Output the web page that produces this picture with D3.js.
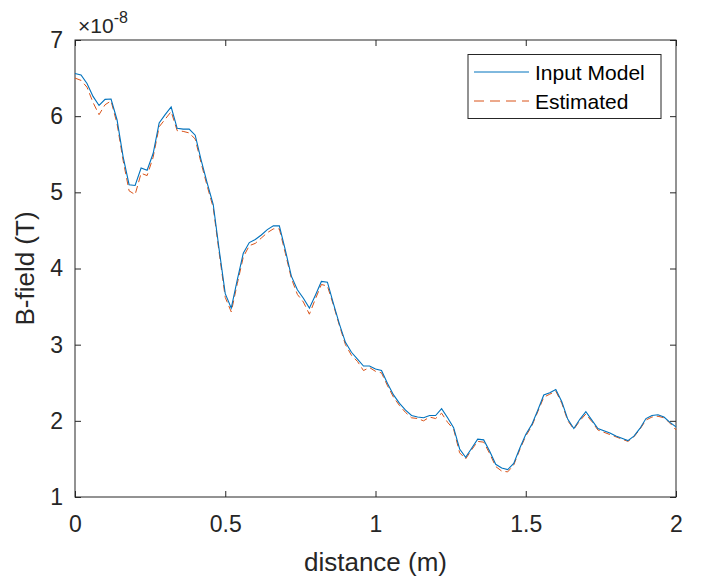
<!DOCTYPE html>
<html>
<head>
<meta charset="utf-8">
<script src="https://cdn.jsdelivr.net/npm/d3@7"></script>
<style>
  body { margin: 0; background: #fff; }
  text { font-family: "Liberation Sans", Arial, sans-serif; }
</style>
</head>
<body>
<svg width="711" height="580"></svg>
<script>
var svg = d3.select("svg");

// x positions: 0 .. 2 m in steps of 0.02
var distance = d3.range(101).map(function(i) { return i / 50; });

// B-field values (x 1e-8 T)
var inputModel = [6.56, 6.54, 6.43, 6.26, 6.14, 6.22, 6.225, 5.95, 5.47, 5.10,
  5.09, 5.32, 5.29, 5.51, 5.91, 6.02, 6.12, 5.84, 5.83, 5.83,
  5.75, 5.42, 5.12, 4.84, 4.24, 3.67, 3.48, 3.85, 4.20, 4.34,
  4.38, 4.44, 4.51, 4.56, 4.56, 4.24, 3.90, 3.72, 3.61, 3.48,
  3.65, 3.83, 3.82, 3.54, 3.27, 3.03, 2.90, 2.81, 2.72, 2.72,
  2.68, 2.66, 2.49, 2.34, 2.23, 2.14, 2.07, 2.05, 2.04, 2.07,
  2.07, 2.16, 2.04, 1.91, 1.63, 1.52, 1.64, 1.76, 1.75, 1.60,
  1.43, 1.38, 1.36, 1.44, 1.64, 1.82, 1.95, 2.14, 2.34, 2.37,
  2.41, 2.25, 2.02, 1.90, 2.02, 2.12, 2.01, 1.90, 1.87, 1.84,
  1.80, 1.77, 1.74, 1.80, 1.90, 2.03, 2.07, 2.08, 2.05, 1.98,
  1.92];

var estimated = [6.50, 6.47, 6.38, 6.18, 6.02, 6.15, 6.20, 5.90, 5.42, 5.02,
  4.97, 5.25, 5.22, 5.46, 5.86, 5.96, 6.06, 5.81, 5.80, 5.78,
  5.70, 5.38, 5.08, 4.80, 4.20, 3.62, 3.43, 3.80, 4.15, 4.30,
  4.33, 4.40, 4.47, 4.52, 4.52, 4.20, 3.87, 3.66, 3.56, 3.40,
  3.60, 3.79, 3.77, 3.52, 3.25, 3.00, 2.86, 2.78, 2.66, 2.70,
  2.65, 2.63, 2.46, 2.31, 2.20, 2.11, 2.04, 2.03, 2.00, 2.05,
  2.03, 2.10, 1.98, 1.89, 1.58, 1.50, 1.62, 1.73, 1.72, 1.57,
  1.40, 1.34, 1.33, 1.42, 1.62, 1.80, 1.93, 2.12, 2.31, 2.35,
  2.39, 2.23, 2.00, 1.89, 2.00, 2.09, 1.99, 1.88, 1.85, 1.82,
  1.79, 1.76, 1.73, 1.79, 1.89, 2.01, 2.05, 2.06, 2.04, 1.97,
  1.88];

var xTicks = [0, 0.5, 1, 1.5, 2];
var yTicks = [1, 2, 3, 4, 5, 6, 7];
var seriesNames = ["Input Model", "Estimated"];

var plotLeft = 75, plotRight = 676, plotTop = 40, plotBottom = 497;
var axisColor = "#262626";

var x = d3.scaleLinear().domain([0, 2]).range([plotLeft, plotRight]);
var y = d3.scaleLinear().domain([1, 7]).range([plotBottom, plotTop]);

function styleAxis(g) {
  g.select(".domain").remove();
  g.selectAll("line").attr("stroke", axisColor);
  g.selectAll("text").attr("fill", axisColor).style("font-size", "23px");
}

svg.append("g")
  .attr("transform", "translate(0," + plotBottom + ")")
  .call(d3.axisBottom(x).tickValues(xTicks).tickFormat(d3.format("")).tickSize(-6).tickPadding(19))
  .call(styleAxis);

svg.append("g")
  .attr("transform", "translate(0," + plotTop + ")")
  .call(d3.axisTop(x).tickValues(xTicks).tickFormat("").tickSize(-6))
  .call(styleAxis);

svg.append("g")
  .attr("transform", "translate(" + plotLeft + ",0)")
  .call(d3.axisLeft(y).tickValues(yTicks).tickFormat(d3.format("d")).tickSize(-6).tickPadding(12))
  .call(styleAxis);

svg.append("g")
  .attr("transform", "translate(" + plotRight + ",0)")
  .call(d3.axisRight(y).tickValues(yTicks).tickFormat("").tickSize(-6))
  .call(styleAxis);

// box
svg.append("rect")
  .attr("x", plotLeft).attr("y", plotTop)
  .attr("width", plotRight - plotLeft).attr("height", plotBottom - plotTop)
  .attr("fill", "none").attr("stroke", axisColor).attr("stroke-width", 1);

var line = d3.line()
  .x(function(d, i) { return x(distance[i]); })
  .y(function(d) { return y(d); });

svg.append("path")
  .datum(estimated)
  .attr("d", line)
  .attr("fill", "none")
  .attr("stroke", "#D95319")
  .attr("stroke-width", 1)
  .attr("stroke-dasharray", "7,4");

svg.append("path")
  .datum(inputModel)
  .attr("d", line)
  .attr("fill", "none")
  .attr("stroke", "#0072BD")
  .attr("stroke-width", 1.1);

// exponent label
var expo = svg.append("text")
  .attr("x", 78).attr("y", 33)
  .attr("fill", axisColor)
  .style("font-size", "21px");
expo.append("tspan").text("\u00d710");
expo.append("tspan").attr("dy", -10).style("font-size", "16px").text("-8");

// axis labels
svg.append("text")
  .attr("x", (plotLeft + plotRight) / 2).attr("y", 571)
  .attr("text-anchor", "middle")
  .attr("fill", axisColor)
  .style("font-size", "26px")
  .text("distance (m)");

svg.append("text")
  .attr("transform", "translate(34," + ((plotTop + plotBottom) / 2) + ") rotate(-90)")
  .attr("text-anchor", "middle")
  .attr("fill", axisColor)
  .style("font-size", "26px")
  .text("B-field (T)");

// legend
var legend = svg.append("g");
legend.append("rect")
  .attr("x", 468).attr("y", 54.5)
  .attr("width", 193).attr("height", 64)
  .attr("fill", "#fff").attr("stroke", axisColor).attr("stroke-width", 1);

var legendRows = [
  { name: seriesNames[0], color: "#0072BD", dash: null, ly: 72 },
  { name: seriesNames[1], color: "#D95319", dash: "10,6", ly: 101 }
];

legendRows.forEach(function(r) {
  legend.append("line")
    .attr("x1", 474).attr("x2", 529)
    .attr("y1", r.ly).attr("y2", r.ly)
    .attr("stroke", r.color)
    .attr("stroke-width", 1)
    .attr("stroke-dasharray", r.dash);
  legend.append("text")
    .attr("x", 535).attr("y", r.ly + 8)
    .attr("fill", "#000")
    .style("font-size", "21px")
    .text(r.name);
});
</script>
</body>
</html>
